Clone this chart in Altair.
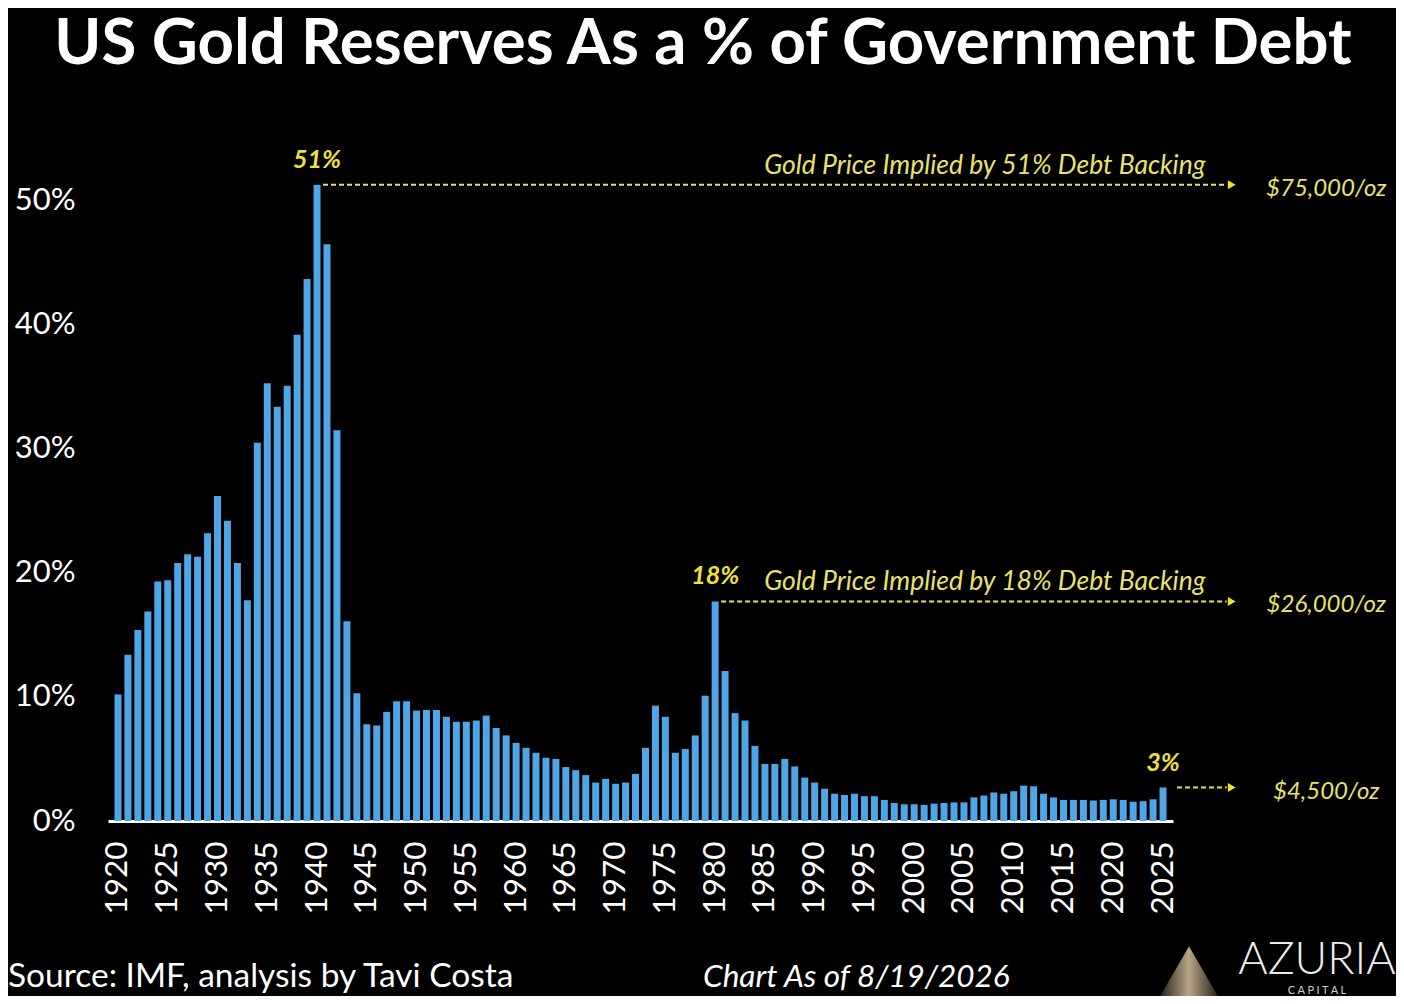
import altair as alt
import pandas as pd

# ---------------- data ----------------
years = list(range(1920, 2026))
reserve_pct = [
    # 1920-1944
    10.2, 13.4, 15.4, 16.9, 19.3, 19.4, 20.8, 21.5, 21.3, 23.2,
    26.2, 24.2, 20.8, 17.8, 30.5, 35.3, 33.4, 35.1, 39.2, 43.7,
    51.3, 46.5, 31.5, 16.1, 10.3,
    # 1945-1975
    7.8, 7.7, 8.8, 9.65, 9.65, 8.9, 8.95, 8.95, 8.4, 8.0,
    8.0, 8.1, 8.5, 7.5, 6.9, 6.3, 5.9, 5.5, 5.1, 5.0,
    4.35, 4.1, 3.7, 3.1, 3.4, 3.0, 3.1, 3.8, 5.9, 9.3, 8.4,
    # 1976-2000
    5.5, 5.8, 6.9, 10.1, 17.7, 12.1, 8.7, 8.1, 6.05, 4.6,
    4.6, 5.0, 4.4, 3.5, 3.1, 2.6, 2.2, 2.1, 2.2, 2.0,
    2.0, 1.7, 1.45, 1.35, 1.35,
    # 2001-2025
    1.3, 1.4, 1.45, 1.5, 1.5, 1.9, 2.05, 2.3, 2.2, 2.4,
    2.85, 2.8, 2.2, 1.9, 1.7, 1.7, 1.7, 1.65, 1.7, 1.75,
    1.7, 1.55, 1.6, 1.75, 2.7,
]

peak_years = [1940, 1980, 2025]
peak_labels = ["51%", "18%", "3%"]
implied_prices = ["$75,000/oz", "$26,000/oz", "$4,500/oz"]
caption_years = [1940, 1980]
captions = ["Gold Price Implied by 51% Debt Backing",
            "Gold Price Implied by 18% Debt Backing"]

x_ticks = list(range(1920, 2026, 5))
y_ticks = [0, 10, 20, 30, 40, 50]

# ---------------- tables ----------------
df = pd.DataFrame({"year": years, "pct": reserve_pct})
pct_of = dict(zip(years, reserve_pct))

line_gap = [0.6, 0.6, 1.4]      # start of dashed leader, right of bar (years)
peaks = pd.DataFrame({
    "year": peak_years,
    "pct": [pct_of[y] for y in peak_years],
    "label": peak_labels,
    "price": implied_prices,
    "x_start": [y + g for y, g in zip(peak_years, line_gap)],
    "x_end": [2031.4] * 3,
})
caps = pd.DataFrame({
    "year": caption_years,
    "pct": [pct_of[y] for y in caption_years],
    "caption": captions,
})

# ---------------- styling ----------------
BAR = "#4EA6E6"
TXT_Y = "#E8E26C"
PCT_Y = "#F0E03A"
ARROW = "#F4E41E"
FONT = "Lato"

xs = alt.Scale(domain=[1919.5, 2025.5], nice=False, zero=False)
ys = alt.Scale(domain=[0, 52], nice=False, zero=True)

x_axis = alt.Axis(values=x_ticks, format="d", title=None, labelAngle=270,
                  labelColor="white", labelFontSize=31.5, labelFont=FONT,
                  labelPadding=20, ticks=False, grid=False,
                  domainColor="white", domainWidth=3, labelFlush=False,
                  labelOverlap=False, labelBound=False)
y_axis = alt.Axis(values=y_ticks, labelExpr="datum.value + '%'", title=None,
                  labelColor="white", labelFontSize=31, labelFont=FONT,
                  labelPadding=33, ticks=False, grid=False, domain=False)


def X(field):
    return alt.X(field, scale=xs, axis=x_axis, title=None)


def Y(field):
    return alt.Y(field, scale=ys, axis=y_axis, title=None)


bars = alt.Chart(df).mark_bar(size=7, color=BAR).encode(
    x=X("year:Q"), y=Y("pct:Q"),
)

base_p = alt.Chart(peaks)

leaders = base_p.mark_rule(color=TXT_Y, strokeWidth=2, strokeDash=[5, 3]).encode(
    x=X("x_start:Q"), x2="x_end:Q", y=Y("pct:Q"),
)

arrows = base_p.mark_point(shape="triangle-right", filled=True, size=80,
                           color=ARROW, opacity=1).encode(
    x=X("x_end:Q"), y=Y("pct:Q"), xOffset=alt.value(5),
)

pct_text = base_p.mark_text(dy=-17, baseline="alphabetic", align="center",
                            font=FONT, fontSize=25, fontStyle="italic",
                            fontWeight="bold", color=PCT_Y).encode(
    x=X("year:Q"), y=Y("pct:Q"), text="label:N",
)

price_text = base_p.mark_text(dy=11, baseline="alphabetic", align="center",
                              font=FONT, fontSize=24, fontStyle="italic",
                              color=TXT_Y).encode(
    x=alt.datum(2041.4, scale=xs, axis=x_axis, title=None),
    y=Y("pct:Q"), text="price:N",
)

cap_text = alt.Chart(caps).mark_text(dy=-11, baseline="alphabetic", align="center",
                                     font=FONT, fontSize=26.5, fontStyle="italic",
                                     color=TXT_Y).encode(
    x=alt.datum(2007.1, scale=xs, axis=x_axis, title=None),
    y=Y("pct:Q"), text="caption:N",
)

one = pd.DataFrame({"k": [0]})


def label(text, x, y, size, weight="normal", style="normal", align="left",
          color="white", font=FONT):
    return alt.Chart(one).mark_text(text=text, align=align, baseline="alphabetic",
                                    font=font, fontSize=size, fontWeight=weight,
                                    fontStyle=style, color=color).encode(
        x=alt.value(x), y=alt.value(y))


# plot origin is page (108, 176)
title = label("US Gold Reserves As a % of Government Debt", 595, -112, 63.5,
              weight="bold", align="center")
source = label("Source: IMF, analysis by Tavi Costa", -100, 811, 33.5)
asof = label("Chart As of 8/19/2026", 595, 811, 31.5, style="italic")
brand = label("AZURIA", 1209, 798, 45, weight=300, align="center", color="#EDEDED")
brand2 = label("C   A   P   I   T   A   L", 1209, 818, 11, align="center", color="#CFCFCF")

logo = alt.Chart(one).mark_point(
    shape="triangle-up", filled=True, size=3300, opacity=1,
    fill=alt.LinearGradient(gradient="linear",
                            stops=[alt.GradientStop(color="#2a2218", offset=0),
                                   alt.GradientStop(color="#b8a686", offset=0.5),
                                   alt.GradientStop(color="#2a2218", offset=1)],
                            x1=0, x2=1, y1=0, y2=0),
).encode(x=alt.value(1081), y=alt.value(795))

chart = alt.layer(
    bars, leaders, arrows, pct_text, price_text, cap_text,
    title, source, asof, logo, brand, brand2,
).properties(
    width=1065, height=645, background="#000000",
    padding={"left": 100, "top": 168, "right": 223, "bottom": 175},
    autosize=alt.AutoSizeParams(type="none"),
).configure_view(stroke="transparent")

chart.save("out.html", embed_options={"renderer": "svg", "actions": False})
